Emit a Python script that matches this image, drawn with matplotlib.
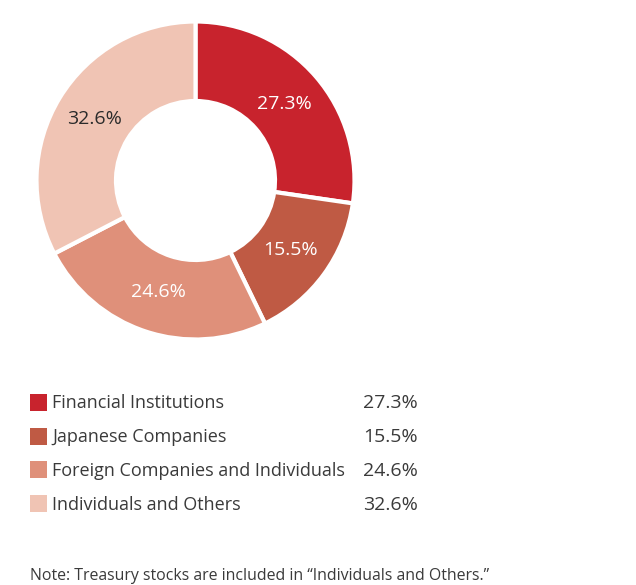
import numpy as np
import matplotlib
matplotlib.use("Agg")
import matplotlib.pyplot as plt

plt.rcParams['font.family'] = ['Open Sans', 'DejaVu Sans']

categories = ["Financial Institutions", "Japanese Companies",
              "Foreign Companies and Individuals", "Individuals and Others"]
shares = [27.3, 15.5, 24.6, 32.6]
colors = ["#C8232D", "#BF5A44", "#DF907A", "#F0C4B4"]
label_colors = ["white", "white", "white", "#2b2b2b"]
note = "Note: Treasury stocks are included in \u201cIndividuals and Others.\u201d"

W, H = 636, 585
fig = plt.figure(figsize=(W / 100, H / 100), dpi=100)

# Donut axes positioned in pixel coordinates
cx, cy, R = 195.5, 180.5, 159
ax = fig.add_axes([(cx - R) / W, (H - cy - R) / H, 2 * R / W, 2 * R / H])
wedges, _ = ax.pie(shares, colors=colors, startangle=90, counterclock=False,
                   radius=1.0,
                   wedgeprops=dict(width=0.5, edgecolor="white", linewidth=3))
ax.set_xlim(-1, 1)
ax.set_ylim(-1, 1)
ax.set_aspect("equal")
ax.axis("off")

for w, v, tc in zip(wedges, shares, label_colors):
    ang = np.deg2rad((w.theta1 + w.theta2) / 2)
    r = 0.74
    ax.text(r * np.cos(ang), r * np.sin(ang), f"{v}%", ha="center", va="center",
            fontsize=14, color=tc)

# Legend rows
text_color = "#3a3a3a"
row_y = [402, 436, 469, 503]
for name, v, c, y in zip(categories, shares, colors, row_y):
    fy = 1 - (y + 1.5) / H
    fig.patches.append(plt.Rectangle((30 / W, 1 - (y + 8.5) / H), 17 / W, 17 / H,
                                     transform=fig.transFigure, facecolor=c,
                                     edgecolor="none"))
    fig.text(52 / W, fy, name, ha="left", va="center", fontsize=13,
             color=text_color)
    fig.text(418 / W, fy, f"{v}%", ha="right", va="center", fontsize=14,
             color=text_color)

fig.text(30 / W, 1 - 576.5 / H, note, ha="left", va="center", fontsize=11.4,
         color=text_color)

fig.savefig("out.png", dpi=100, facecolor="white")
